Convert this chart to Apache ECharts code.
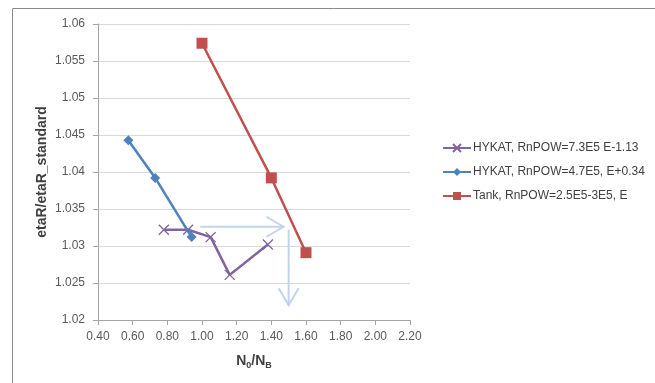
<!DOCTYPE html>
<html>
<head>
<meta charset="utf-8">
<script src="https://cdn.jsdelivr.net/npm/echarts@6/dist/echarts.min.js"></script>
<style>
  html, body { margin: 0; padding: 0; background: #fff; }
  #chart { width: 655px; height: 383px; }
</style>
</head>
<body>
<div id="chart"></div>
<script>
// N0/NB vs etaR/etaR_standard for three configurations
const seriesNames = [
  'HYKAT, RnPOW=7.3E5 E-1.13',
  'HYKAT, RnPOW=4.7E5, E+0.34',
  'Tank, RnPOW=2.5E5-3E5, E'
];
const hykat73X = [0.78, 0.92, 1.05, 1.16, 1.38];
const hykat73Y = [1.0322, 1.0322, 1.0312, 1.0261, 1.0302];
const hykat47X = [0.575, 0.73, 0.94];
const hykat47Y = [1.0443, 1.0392, 1.0312];
const tankX = [1.00, 1.40, 1.60];
const tankY = [1.0574, 1.0392, 1.0291];

// Annotation arrows: [x0, y0, x1, y1]
const arrows = [
  [0.99, 1.0326, 1.47, 1.0326],
  [1.50, 1.0322, 1.50, 1.0220]
];

const xTicks = { min: 0.4, max: 2.2, step: 0.2 };
const yTicks = { min: 1.02, max: 1.06, step: 0.005 };

const pairs = (xs, ys) => xs.map((x, i) => [x, ys[i]]);
const FONT = 'Liberation Sans';

const chart = echarts.init(document.getElementById('chart'), null, { renderer: 'canvas' });

const crossPath = 'path://M0,0L10,10M10,0L0,10';

chart.setOption({
  animation: false,
  backgroundColor: '#ffffff',
  textStyle: { fontFamily: FONT },
  grid: { left: 98, right: 245, top: 24, bottom: 63 },
  graphic: [
    { type: 'line', shape: { x1: 12.5, y1: 8.5, x2: 655, y2: 8.5 }, style: { stroke: '#8a8a8a', lineWidth: 1 } },
    { type: 'line', shape: { x1: 12.5, y1: 8.5, x2: 12.5, y2: 383 }, style: { stroke: '#8a8a8a', lineWidth: 1 } }
  ],
  legend: {
    orient: 'vertical',
    left: 437,
    top: 137,
    itemWidth: 28,
    itemHeight: 10,
    itemGap: 12,
    data: seriesNames,
    textStyle: { fontFamily: FONT, fontSize: 12, color: '#404040', padding: [0, 0, 0, -3] }
  },
  xAxis: {
    type: 'value',
    min: xTicks.min,
    max: xTicks.max,
    interval: xTicks.step,
    name: '{b|N}{s|0}{b|/N}{s|B}',
    nameLocation: 'middle',
    nameGap: 33,
    nameTextStyle: {
      rich: {
        b: { fontFamily: FONT, fontSize: 14, fontWeight: 'bold', color: '#404040' },
        s: { fontFamily: FONT, fontSize: 9, fontWeight: 'bold', color: '#404040', padding: [8, 0, 0, 0] }
      }
    },
    axisLine: { lineStyle: { color: '#a6a6a6', width: 1 } },
    axisTick: { show: true, length: 5, inside: false, lineStyle: { color: '#a6a6a6' } },
    splitLine: { show: false },
    axisLabel: {
      margin: 11,
      fontSize: 12,
      color: '#595959',
      formatter: v => v.toFixed(2)
    }
  },
  yAxis: {
    type: 'value',
    min: yTicks.min,
    max: yTicks.max,
    interval: yTicks.step,
    name: 'etaR/etaR_standard',
    nameLocation: 'middle',
    nameGap: 49,
    nameTextStyle: { fontFamily: FONT, fontSize: 14, fontWeight: 'bold', color: '#404040' },
    axisLine: { show: true, lineStyle: { color: '#a6a6a6', width: 1 } },
    axisTick: { show: true, length: 5, lineStyle: { color: '#a6a6a6' } },
    splitLine: { show: true, lineStyle: { color: '#d9d9d9', width: 1 } },
    axisLabel: {
      margin: 13,
      fontSize: 12,
      color: '#595959',
      formatter: v => String(parseFloat(v.toFixed(3)))
    }
  },
  series: [
    {
      name: seriesNames[0],
      type: 'line',
      data: pairs(hykat73X, hykat73Y),
      color: '#8064a2',
      lineStyle: { width: 2.5, color: '#8064a2' },
      symbol: crossPath,
      symbolSize: 10,
      itemStyle: { color: '#8064a2', borderColor: '#8064a2', borderWidth: 1.3 },
      z: 3
    },
    {
      name: seriesNames[1],
      type: 'line',
      data: pairs(hykat47X, hykat47Y),
      color: '#4f81bd',
      lineStyle: { width: 2.5, color: '#4f81bd' },
      symbol: 'diamond',
      symbolSize: 10,
      itemStyle: { color: '#4f81bd' },
      z: 4
    },
    {
      name: seriesNames[2],
      type: 'line',
      data: pairs(tankX, tankY),
      color: '#c0504d',
      lineStyle: { width: 2.5, color: '#c0504d' },
      symbol: 'rect',
      symbolSize: 11,
      itemStyle: { color: '#c0504d' },
      z: 4
    },
    {
      name: 'arrows',
      type: 'custom',
      data: arrows,
      z: 2,
      silent: true,
      renderItem: (params, api) => {
        const p0 = api.coord([api.value(0), api.value(1)]);
        const p1 = api.coord([api.value(2), api.value(3)]);
        const dx = p1[0] - p0[0], dy = p1[1] - p0[1];
        const len = Math.hypot(dx, dy);
        const ux = dx / len, uy = dy / len;
        const back = 17, half = 10;
        const a = [p1[0] - ux * back - uy * half, p1[1] - uy * back + ux * half];
        const b = [p1[0] - ux * back + uy * half, p1[1] - uy * back - ux * half];
        const style = { stroke: '#c3d3ee', lineWidth: 2, fill: null };
        return {
          type: 'group',
          children: [
            { type: 'line', shape: { x1: p0[0], y1: p0[1], x2: p1[0], y2: p1[1] }, style },
            { type: 'polyline', shape: { points: [a, p1, b] }, style }
          ]
        };
      }
    }
  ]
});
</script>
</body>
</html>
